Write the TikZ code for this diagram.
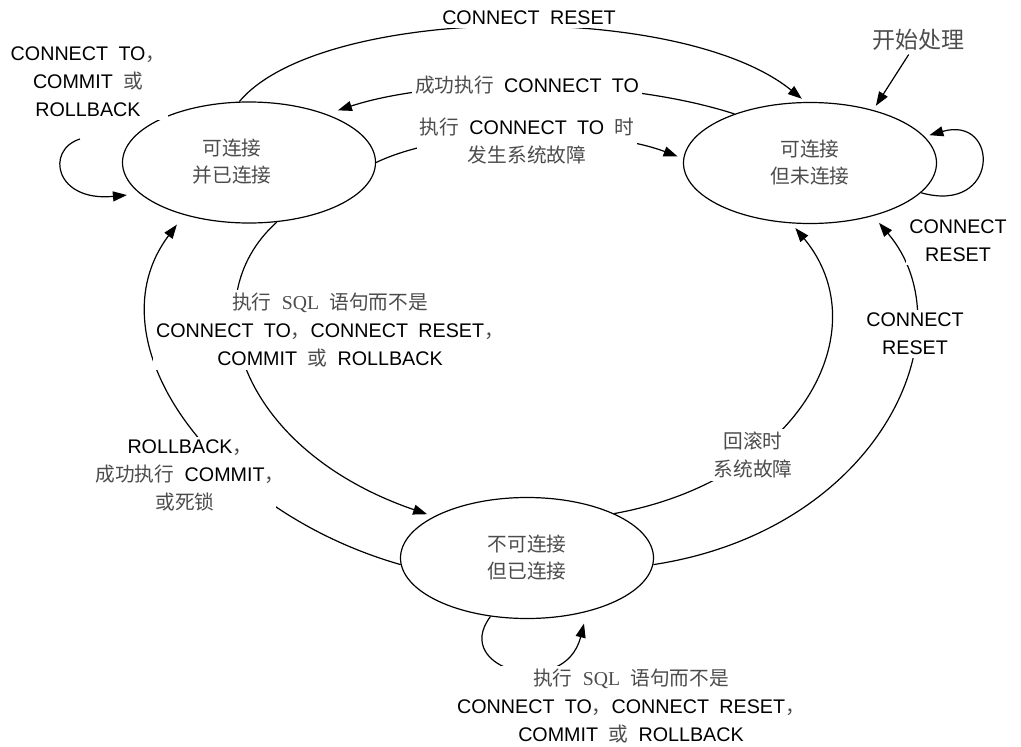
\documentclass[tikz,border=0pt]{standalone}
\usepackage{fontspec}
\setmainfont{Liberation Sans}[WordSpace=1.9]
\newfontfamily\cjk{Noto Sans CJK SC}
\newfontfamily\serifl{Liberation Serif}
\usetikzlibrary{arrows.meta,shapes.geometric}
\definecolor{zhgray}{gray}{0.3}
\newcommand\zh[1]{{\cjk\color{zhgray}#1}}
\newcommand\sqlw{{\serifl\color{zhgray}SQL}}
\newcommand\ncomma{\makebox[0.5em][l]{\zh{，}}}
\begin{document}
\begin{tikzpicture}[x=1pt,y=-1pt,line width=1.2pt,
  state/.style={draw,ellipse,minimum width=253pt,minimum height=121pt,inner sep=0pt,align=center,font=\fontsize{19.7}{27}\selectfont},
  lbl/.style={fill=white,inner sep=3pt,align=center,font=\fontsize{19.7}{28}\selectfont},
  arr/.style={-{Triangle[length=14pt,width=10pt]}}]
\useasboundingbox (0,0) rectangle (1021,747);
% states
\node[state] (A) at (249,162.5) {};
\node[align=center,font=\fontsize{19.7}{27}\selectfont] (Atxt) at (232,162) {\zh{可连接}\\\zh{并已连接}};
\node[state] (B) at (810,163) {\zh{可连接}\\\zh{但未连接}};
\node[state] (C) at (527,558) {\zh{不可连接}\\\zh{但已连接}};
\node[font=\fontsize{23}{27}\selectfont] (start) at (918,40) {\zh{开始处理}};
\coordinate (aL) at (80,139);
% connectors
\draw[arr,shorten >=5pt] (A.99) .. controls (320,5) and (680,0) .. (B.94);
\draw[arr,shorten >=12pt] (B.147) .. controls (620,77) and (440,77) .. (A.32);
\draw[arr,shorten >=6pt] (A.east) .. controls (450,127) and (600,127) .. (B.178);
\draw[arr,shorten >=7pt] (A.-65) .. controls (190,300) and (240,450) .. (C.156);
\draw[arr,shorten >=12pt] (C.-177) .. controls (210,510) and (90,340) .. (A.-141);
\draw[arr,shorten >=6pt] (C.27) .. controls (800,480) and (880,330) .. (B.-107);
\draw[arr,shorten >=9pt] (C.-3) .. controls (880,530) and (970,330) .. (B.-40);
\draw[arr,shorten >=5pt] (start) -- (B.40);
\draw[arr,shorten >=5pt] (B.-15) .. controls (1000,215) and (1000,115) .. (B.13);
\draw[arr,shorten >=13pt] (aL) .. controls (45,150) and (55,202) .. (A.-164);
\draw[arr,shorten >=12pt] (C.-122) .. controls (450,670) and (565,700) .. (C.-42);
% labels
\node[lbl] (l1) at (529,18) {CONNECT RESET};
\node[lbl] (l2) at (527,85) {\zh{成功执行} CONNECT TO};
\node[lbl] (l3) at (527,141) {\zh{执行} CONNECT TO \zh{时}\\\zh{发生系统故障}};
\node[lbl] (l4) at (330,330) {\zh{执行} \sqlw\ \zh{语句而不是}\\CONNECT TO\zh{，}CONNECT RESET\zh{，}\\COMMIT \zh{或} ROLLBACK};
\node[lbl,inner sep=2pt] (l5) at (185,475) {ROLLBACK\ncomma\\\zh{成功执行} COMMIT\ncomma\\\zh{或死锁}};
\node[lbl] (l6) at (753,455) {\zh{回滚时}\\\zh{系统故障}};
\node[lbl] (l7) at (915,334) {CONNECT\\RESET};
\node[lbl] (l8) at (958,241) {CONNECT\\RESET};
\node[lbl] (l9) at (88,82) {CONNECT TO\zh{，}\\COMMIT \zh{或}\\ROLLBACK};
\node[lbl] (l10) at (631,706) {\zh{执行} \sqlw\ \zh{语句而不是}\\CONNECT TO\zh{，}CONNECT RESET\zh{，}\\COMMIT \zh{或} ROLLBACK};
\end{tikzpicture}
\end{document}
